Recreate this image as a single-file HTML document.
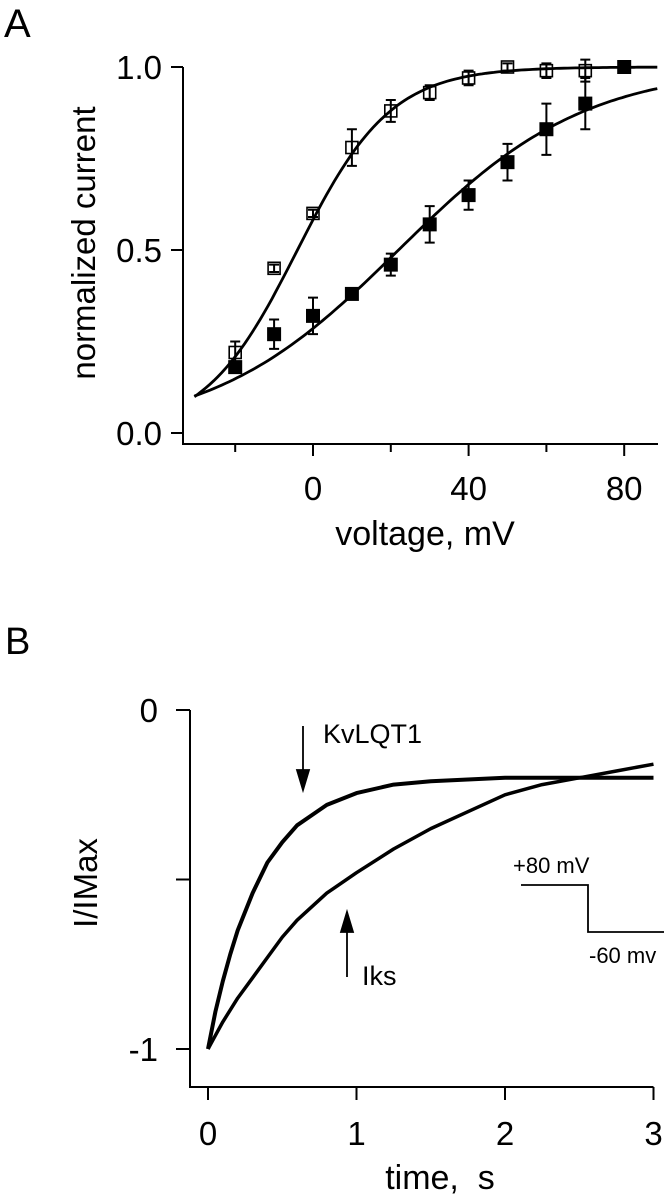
<!DOCTYPE html>
<html><head><meta charset="utf-8"><style>
html,body{margin:0;padding:0;background:#fff;}
svg{display:block;font-family:"Liberation Sans",sans-serif;}
</style></head><body>
<svg id="fig" width="672" height="1199" viewBox="0 0 672 1199" xmlns="http://www.w3.org/2000/svg">
<g id="pa"></g>
<g id="pb"></g>
</svg>
<script>
// Panel A data
const voltOpen = [-20,-10,0,10,20,30,40,50,60,70];
const curOpen = [0.22,0.45,0.60,0.78,0.88,0.93,0.97,1.00,0.99,0.99];
const errOpen = [0.03,0.01,0.01,0.05,0.03,0.02,0.02,0.01,0.02,0.03];
const voltFilled = [-20,-10,0,10,20,30,40,50,60,70,80];
const curFilled = [0.18,0.27,0.32,0.38,0.46,0.57,0.65,0.74,0.83,0.90,1.00];
const errFilled = [0.01,0.04,0.05,0.01,0.03,0.05,0.04,0.05,0.07,0.07,0.0];
const fitOpen = [-4,12];   // V1/2, slope
const fitFilled = [22,24];
const xTicksA = [-20,0,20,40,60,80];
const xLabelsA = [0,40,80];
const yTicksA = [0,0.5,1.0];
const yLabelsA = ["0.0","0.5","1.0"];
// Panel B data
const timeK = [0,0.05,0.1,0.15,0.2,0.3,0.4,0.5,0.6,0.7,0.8,1.0,1.25,1.5,2.0,2.5,3.0];
const curK = [-1.0,-0.89,-0.80,-0.72,-0.65,-0.54,-0.45,-0.39,-0.34,-0.31,-0.28,-0.245,-0.22,-0.21,-0.20,-0.20,-0.20];
const timeI = [0,0.05,0.1,0.2,0.3,0.4,0.5,0.6,0.8,1.0,1.25,1.5,1.75,2.0,2.25,2.5,2.75,3.0];
const curI = [-1.0,-0.96,-0.92,-0.85,-0.79,-0.73,-0.67,-0.62,-0.54,-0.48,-0.41,-0.35,-0.30,-0.25,-0.22,-0.20,-0.18,-0.16];
const xTicksB = [0,1,2,3];
const yTicksB = [-1,-0.5,0];
const yLabelsB = {"0":"0","-1":"-1"};

const NS="http://www.w3.org/2000/svg";
function mk(parent,tag,attrs,text){const e=document.createElementNS(NS,tag);for(const k in attrs)e.setAttribute(k,attrs[k]);if(text!==undefined)e.textContent=text;parent.appendChild(e);return e;}

// ---- Panel A ----
const pa=document.getElementById('pa');
const xA=v=>313+v*3.89;
const yA=c=>433-c*366;
let t=mk(pa,'text',{x:4,y:37,'font-size':40});
t.textContent='A';
let ax=mk(pa,'path',{d:`M183 ${yA(1)} V444 H658`,fill:'none',stroke:'#000','stroke-width':2});

yTicksA.forEach((v,i)=>{
  let l=mk(pa,'line',{x1:171,x2:183,y1:yA(v),y2:yA(v),stroke:'#000','stroke-width':2});
  
  let tx=mk(pa,'text',{x:162,y:yA(v)+12,'font-size':33,'text-anchor':'end'},yLabelsA[i]);
  
});
xTicksA.forEach(v=>{
  let l=mk(pa,'line',{x1:xA(v),x2:xA(v),y1:444,y2:xLabelsA.includes(v)?456:452,stroke:'#000','stroke-width':2});
  
});
xLabelsA.forEach(v=>{
  let tx=mk(pa,'text',{x:xA(v),y:500,'font-size':33,'text-anchor':'middle'},String(v));
  
});
t=mk(pa,'text',{x:425,y:545,'font-size':34,'text-anchor':'middle'},'voltage, mV');

t=mk(pa,'text',{x:0,y:0,'font-size':33,'text-anchor':'middle',transform:'translate(95,243) rotate(-90)'},'normalized current');

function boltz(p){let d='';for(let v=-30.5;v<=89;v+=1){const c=1/(1+Math.exp((p[0]-v)/p[1]));d+=(d?'L':'M')+xA(v).toFixed(1)+' '+yA(c).toFixed(1);}return d;}
let f1=mk(pa,'path',{d:boltz(fitOpen),fill:'none',stroke:'#000','stroke-width':2.8});

let f2=mk(pa,'path',{d:boltz(fitFilled),fill:'none',stroke:'#000','stroke-width':2.8});

function pts(vs,cs,es,filled){
  vs.forEach((v,i)=>{
    const x=xA(v),y=yA(cs[i]),e=es[i]*366;
    if(e>0){
      let eb=mk(pa,'path',{d:`M${x} ${y-e}V${y+e}M${x-5} ${y-e}H${x+5}M${x-5} ${y+e}H${x+5}`,stroke:'#000','stroke-width':2,fill:'none'});
      
    }
    let m;
    if(filled){m=mk(pa,'rect',{x:x-7,y:y-7,width:14,height:14,fill:'#000'});
      }
    else{m=mk(pa,'rect',{x:x-6,y:y-6,width:12,height:12,fill:'none',stroke:'#000','stroke-width':1.6});
      }
    
  });
}
pts(voltOpen,curOpen,errOpen,false);
pts(voltFilled,curFilled,errFilled,true);

// ---- Panel B ----
const pb=document.getElementById('pb');
const xB=s=>208+s*148.5;
function yb(c){return 710+(-c)*339;}
t=mk(pb,'text',{x:5,y:654,'font-size':38},'B');

ax=mk(pb,'path',{d:`M190 710 V1087 H${xB(3)}`,fill:'none',stroke:'#000','stroke-width':2});

yTicksB.forEach(v=>{
  let l=mk(pb,'line',{x1:176,x2:190,y1:yb(v),y2:yb(v),stroke:'#000','stroke-width':2});
  
  if(yLabelsB[String(v)]!==undefined){
    let tx=mk(pb,'text',{x:158,y:yb(v)+12,'font-size':33,'text-anchor':'end'},yLabelsB[String(v)]);
    
  }
});
xTicksB.forEach(v=>{
  let l=mk(pb,'line',{x1:xB(v),x2:xB(v),y1:1087,y2:1100,stroke:'#000','stroke-width':2});
  
  let tx=mk(pb,'text',{x:xB(v),y:1145,'font-size':33,'text-anchor':'middle'},String(v));
  
});
t=mk(pb,'text',{x:440,y:1189,'font-size':34,'text-anchor':'middle','xml:space':'preserve'},'time,\u00a0\u00a0s');

t=mk(pb,'text',{x:0,y:0,'font-size':33,'text-anchor':'middle',transform:'translate(97,883) rotate(-90)'},'I/IMax');

function line(ts,cs){return ts.map((s,i)=>(i?'L':'M')+xB(s).toFixed(1)+' '+yb(cs[i]).toFixed(1)).join('');}
let tk=mk(pb,'path',{d:line(timeK,curK),fill:'none',stroke:'#000','stroke-width':4,'stroke-linejoin':'round'});

let ti=mk(pb,'path',{d:line(timeI,curI),fill:'none',stroke:'#000','stroke-width':3.5,'stroke-linejoin':'round'});

// annotations
let ar=mk(pb,'path',{d:'M303 726V775M297 770L303 790L309 770Z',stroke:'#000','stroke-width':1.8,fill:'#000'});

t=mk(pb,'text',{x:323,y:743,'font-size':27},'KvLQT1');

ar=mk(pb,'path',{d:'M347 977V928M341 932L347 912L353 932Z',stroke:'#000','stroke-width':1.8,fill:'#000'});

t=mk(pb,'text',{x:362,y:985,'font-size':27},'Iks');

let st=mk(pb,'path',{d:'M521 885H588V932H664',fill:'none',stroke:'#000','stroke-width':1.8});

t=mk(pb,'text',{x:513,y:873,'font-size':22},'+80 mV');

t=mk(pb,'text',{x:589,y:963,'font-size':22},'-60 mv');

</script>
</body></html>
